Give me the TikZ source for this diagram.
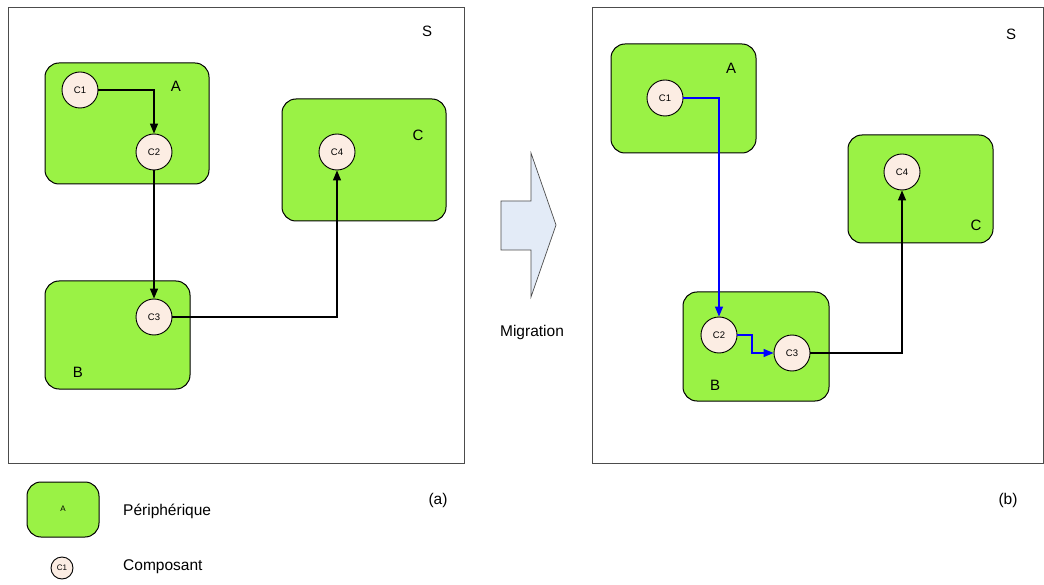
\documentclass[tikz,border=0pt]{standalone}
\usepackage{fontspec}
\setmainfont{Liberation Sans}
\usetikzlibrary{arrows.meta}

\tikzset{
  periph/.style={draw=black,fill=periphColor,rounded corners=14pt,line width=1pt},
  comp/.style={circle,draw=black,fill=compColor,line width=0.9pt,minimum size=36pt,inner sep=0pt,font=\fontsize{9.5}{9.5}\selectfont},
  frame/.style={draw=black!70,line width=1pt},
  lbl/.style={inner sep=0pt,font=\fontsize{15}{15}\selectfont},
  txt/.style={inner sep=0pt,font=\fontsize{15.5}{15.5}\selectfont},
  link/.style={line width=1.3pt,-{Triangle[length=10pt,width=8pt]}},
}

\begin{document}
\begin{tikzpicture}[x=1pt,y=-1pt]
\definecolor{periphColor}{RGB}{154,242,69}
\definecolor{compColor}{RGB}{252,237,227}
\definecolor{arrowColor}{RGB}{227,235,247}
\definecolor{blueLink}{RGB}{0,0,255}
\path[use as bounding box,fill=white] (0,0) rectangle (1044,585);

% panel (a)
\path[frame] (8,8) rectangle (464,463);
\node[lbl] (Sa) at (427,31) {S};

\path[periph] (45,63) rectangle (209,184);
\node[lbl] (Aa) at (176,86) {A};
\path[periph] (282,99) rectangle (446,221);
\node[lbl] (Ca) at (418,135) {C};
\path[periph] (45,281) rectangle (190,389);
\node[lbl] (Ba) at (78,372) {B};

\node[comp] (c1a) at (80,90) {C1};
\node[comp] (c2a) at (154,152) {C2};
\node[comp] (c3a) at (154,317) {C3};
\node[comp] (c4a) at (337,152) {C4};

\draw[link] (c1a.east) -| (c2a.north);
\draw[link] (c2a.south) -- (c3a.north);
\draw[link] (c3a.east) -| (c4a.south);

% migration arrow
\path[draw=black!70,fill=arrowColor,line width=0.7pt] (501,201) -- (531,201) -- (531,153) -- (556,225)
  -- (531,297) -- (531,250) -- (501,250) -- cycle;
\node[txt] (mig) at (532,332) {Migration};

% panel (b)
\path[frame] (592,8) rectangle (1043,463);
\node[lbl] (Sb) at (1011,34) {S};

\path[periph] (611,44) rectangle (756,153);
\node[lbl] (Ab) at (731,68) {A};
\path[periph] (848,135) rectangle (993,243);
\node[lbl] (Cb) at (976,225) {C};
\path[periph] (683,292) rectangle (829,401);
\node[lbl] (Bb) at (715,385) {B};

\node[comp] (c1b) at (665,98) {C1};
\node[comp] (c4b) at (902,172) {C4};
\node[comp] (c2b) at (719,335) {C2};
\node[comp] (c3b) at (792,353) {C3};

\draw[link,draw=blueLink,-{Triangle[length=10pt,width=8pt,fill=blueLink]}] (c1b.east) -| (c2b.north);
\draw[link,draw=blueLink,-{Triangle[length=10pt,width=8pt,fill=blueLink]}] (c2b.east) -- (752,335) |- (c3b.west);
\draw[link] (c3b.east) -| (c4b.south);

\node[txt] (capa) at (438,500) {(a)};
\node[txt] (capb) at (1008,500) {(b)};

% legend
\path[periph] (27,482) rectangle (99,537);
\node[inner sep=0pt,font=\fontsize{8}{8}\selectfont] (legA) at (63,509) {A};
\node[txt,anchor=west] (legP) at (123,511) {Périphérique};
\node[comp,minimum size=22pt,font=\fontsize{8}{8}\selectfont] (legC) at (62,568) {C1};
\node[txt,anchor=west] (legK) at (123,567) {Composant};
\end{tikzpicture}
\end{document}
